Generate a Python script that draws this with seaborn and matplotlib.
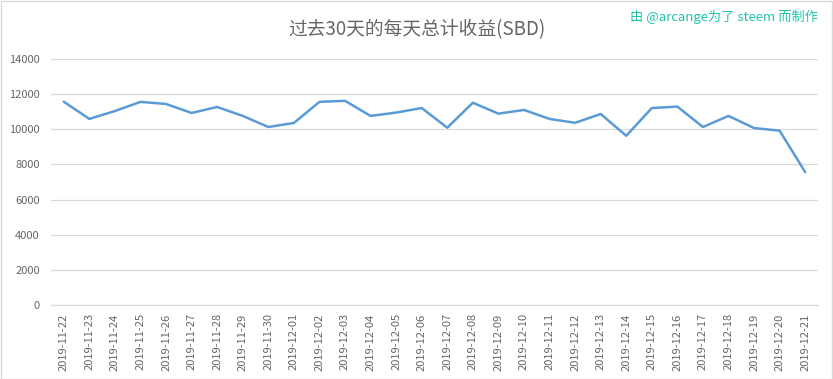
import matplotlib
matplotlib.use("Agg")
import matplotlib.pyplot as plt
import matplotlib.patches as mpatches
import seaborn as sns
import pandas as pd

dates = ["2019-11-22", "2019-11-23", "2019-11-24", "2019-11-25", "2019-11-26",
         "2019-11-27", "2019-11-28", "2019-11-29", "2019-11-30", "2019-12-01",
         "2019-12-02", "2019-12-03", "2019-12-04", "2019-12-05", "2019-12-06",
         "2019-12-07", "2019-12-08", "2019-12-09", "2019-12-10", "2019-12-11",
         "2019-12-12", "2019-12-13", "2019-12-14", "2019-12-15", "2019-12-16",
         "2019-12-17", "2019-12-18", "2019-12-19", "2019-12-20", "2019-12-21"]
earnings = [11570, 10590, 11040, 11560, 11440, 10930, 11270, 10760, 10130, 10360,
            11560, 11620, 10760, 10950, 11210, 10090, 11510, 10890, 11100, 10590,
            10370, 10870, 9630, 11210, 11290, 10130, 10760, 10070, 9920, 7560]
y_ticks = [0, 2000, 4000, 6000, 8000, 10000, 12000, 14000]

title = "过去30天的每天总计收益(SBD)"
watermark = "由 @arcange为了 steem 而制作"

sns.set_theme(style="white")
plt.rcParams['font.family'] = ['Noto Sans CJK SC', 'DejaVu Sans']

df = pd.DataFrame({"date": dates, "value": earnings})
df["idx"] = range(len(df))

fig = plt.figure(figsize=(8.33, 3.79), dpi=100)
fig.patch.set_facecolor("white")
ax = fig.add_axes([51 / 833, 1 - 305 / 379, (818 - 51) / 833, (305 - 59) / 379])

sns.lineplot(data=df, x="idx", y="value", ax=ax, color="#5b9bd5", linewidth=1.8)

ax.set_xlim(-0.5, len(dates) - 0.5)
ax.set_ylim(0, 14000)
ax.set_yticks(y_ticks)
ax.set_yticklabels([str(v) for v in y_ticks])
ax.set_xticks(df["idx"])
ax.set_xticklabels(dates, rotation=90)
ax.grid(axis="y", color="#d9d9d9", linewidth=0.9)
ax.set_axisbelow(True)
for s in ["top", "right", "left"]:
    ax.spines[s].set_visible(False)
ax.spines["bottom"].set_color("#d9d9d9")
ax.spines["bottom"].set_linewidth(0.9)
ax.tick_params(axis="both", length=0, colors="#666666", labelsize=8)
ax.tick_params(axis="y", pad=8)
ax.tick_params(axis="x", pad=6)
ax.set_xlabel("")
ax.set_ylabel("")

fig.text(0.5, 1 - 30 / 379, title, ha="center", va="center", fontsize=13.5, color="#666666")
fig.text(818 / 833, 1 - 17 / 379, watermark, ha="right", va="center", fontsize=9.5, color="#20c4aa")

fig.patches.append(mpatches.Rectangle((0.5 / 833, 0.5 / 379), 1 - 1.5 / 833, 1 - 1.5 / 379,
                                      transform=fig.transFigure, fill=False,
                                      edgecolor="#d9d9d9", linewidth=1))

fig.savefig("out.png", dpi=100)
